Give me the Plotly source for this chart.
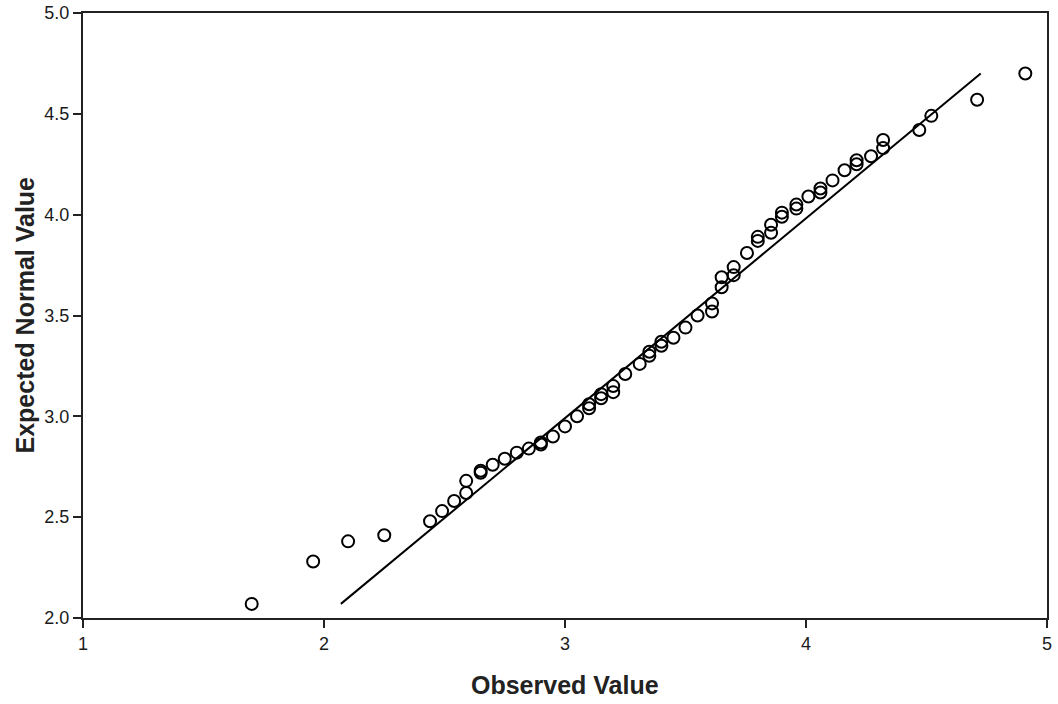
import plotly.graph_objects as go

observed = [1.70, 1.955, 2.10, 2.25, 2.44, 2.49, 2.54, 2.59, 2.59, 2.65, 2.65, 2.70,
            2.75, 2.80, 2.85, 2.90, 2.90, 2.95, 3.00, 3.05, 3.10, 3.10, 3.15, 3.15,
            3.20, 3.20, 3.25, 3.31, 3.35, 3.35, 3.40, 3.40, 3.45, 3.50, 3.55, 3.61,
            3.61, 3.65, 3.65, 3.70, 3.70, 3.755, 3.80, 3.80, 3.855, 3.855, 3.90, 3.90,
            3.96, 3.96, 4.01, 4.06, 4.06, 4.11, 4.16, 4.21, 4.21, 4.27, 4.32, 4.32,
            4.47, 4.52, 4.71, 4.91]
expected = [2.07, 2.28, 2.38, 2.41, 2.48, 2.53, 2.58, 2.62, 2.68, 2.72, 2.73, 2.76,
            2.79, 2.82, 2.84, 2.86, 2.87, 2.90, 2.95, 3.00, 3.04, 3.06, 3.09, 3.11,
            3.12, 3.15, 3.21, 3.26, 3.30, 3.32, 3.35, 3.37, 3.39, 3.44, 3.50, 3.52,
            3.56, 3.64, 3.69, 3.70, 3.74, 3.81, 3.87, 3.89, 3.91, 3.95, 3.99, 4.01,
            4.03, 4.05, 4.09, 4.11, 4.13, 4.17, 4.22, 4.25, 4.27, 4.29, 4.33, 4.37,
            4.42, 4.49, 4.57, 4.70]

line_x = [2.07, 4.725]
line_y = [2.07, 4.70]

x_ticks = [1, 2, 3, 4, 5]
y_ticks = [2.0, 2.5, 3.0, 3.5, 4.0, 4.5, 5.0]
y_tick_text = ["2.0", "2.5", "3.0", "3.5", "4.0", "4.5", "5.0"]

FONT = "Liberation Sans, Arial"

fig = go.Figure()
fig.add_trace(go.Scatter(x=line_x, y=line_y, mode="lines",
                         line=dict(color="black", width=2), showlegend=False,
                         hoverinfo="skip"))
fig.add_trace(go.Scatter(x=observed, y=expected, mode="markers",
                         marker=dict(symbol="circle-open", size=12,
                                     color="black", line=dict(width=2)),
                         showlegend=False))

axis_common = dict(showgrid=False, zeroline=False, showline=True, linecolor="#222",
                   linewidth=2, mirror=True, ticks="outside", ticklen=8,
                   tickwidth=2, tickcolor="#222", automargin=False,
                   tickfont=dict(family=FONT, size=18, color="#1a1a1a"))

fig.update_xaxes(range=[1, 5], tickvals=x_ticks, **axis_common)
fig.update_yaxes(range=[2.0, 5.0], tickvals=y_ticks, ticktext=y_tick_text,
                 **axis_common)

fig.update_layout(
    width=1058, height=704,
    margin=dict(l=83, r=11, t=13, b=86, autoexpand=False),
    paper_bgcolor="white", plot_bgcolor="white",
    annotations=[
        dict(text="<b>Observed Value</b>", xref="paper", yref="paper",
             x=0.5, y=-0.111,
             showarrow=False, xanchor="center", yanchor="middle",
             font=dict(family=FONT, size=25, color="#222")),
        dict(text="<b>Expected Normal Value</b>", textangle=-90,
             xref="paper", yref="paper", x=-0.0612, y=0.5, showarrow=False,
             xanchor="center", yanchor="middle",
             font=dict(family=FONT, size=25, color="#222")),
    ],
)

fig.write_html("out.html", config={"displayModeBar": False},
               post_script="document.body.style.margin='0';document.body.style.padding='0';")
